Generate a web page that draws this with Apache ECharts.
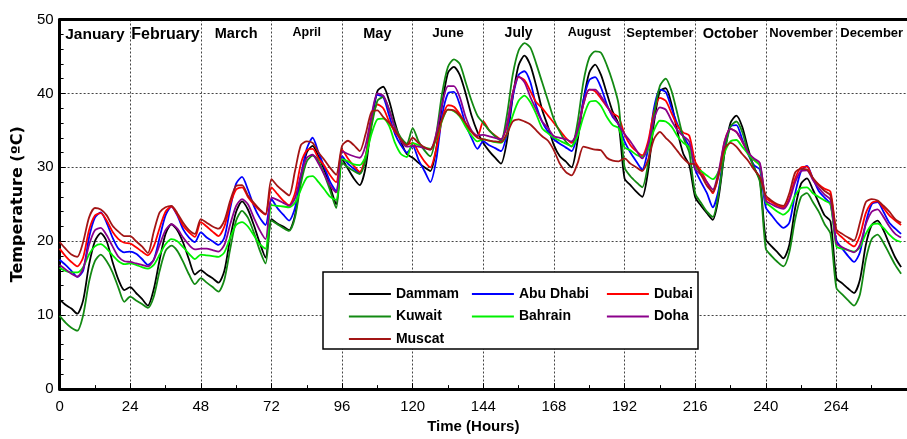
<!DOCTYPE html>
<html>
<head>
<meta charset="utf-8">
<script src="https://cdn.jsdelivr.net/npm/echarts@6/dist/echarts.min.js"></script>
<style>html,body{margin:0;padding:0;background:#fff;}#c{width:907px;height:439px;}</style>
</head>
<body>
<div id="c"></div>
<script>
const months = ['January','February','March','April','May','June','July','August','September','October','November','December'];
const monthFontSize = [15.5,16,14.5,12.5,14.5,13.5,14,12.5,13,14.5,13,13];
const hoursOfDay = [0,2,4,6,8,10,12,14,16,18,20,22];
const xTicks = [0,24,48,72,96,120,144,168,192,216,240,264,288];

const dammam = [
12.1,11.4,10.9,10.2,12.0,16.8,20.0,21.1,20.0,17.2,14.8,13.4,
13.8,13.0,12.2,11.3,13.5,17.5,21.0,22.3,21.5,19.8,17.5,15.5,
16.1,15.5,15.0,14.4,16.0,20.5,24.0,25.4,24.3,22.2,19.8,17.8,
23.0,22.4,22.0,21.5,23.5,28.5,32.0,32.9,31.5,29.6,27.3,25.0,
31.1,29.8,28.5,27.6,30.0,36.0,40.3,40.9,39.0,36.0,33.5,31.8,
31.3,30.6,30.0,29.5,32.5,38.5,42.8,43.6,42.5,40.0,37.0,34.8,
33.3,32.2,31.3,30.5,33.5,39.5,43.8,45.1,43.8,41.0,37.8,35.5,
33.0,31.5,30.8,30.0,33.5,39.0,42.8,43.9,42.5,40.0,37.5,35.8,
28.5,27.6,26.7,26.0,29.5,36.0,40.3,40.7,38.5,34.8,31.8,30.3,
26.0,24.8,23.8,22.9,26.0,32.0,36.0,37.0,35.5,32.5,30.0,28.3,
20.3,19.3,18.5,17.7,19.5,24.5,27.8,28.5,27.0,25.2,23.5,22.7,
15.0,14.3,13.6,13.0,14.8,19.5,22.2,22.8,21.5,19.6,17.8,16.5];

const kuwait = [
9.9,9.0,8.3,7.9,10.0,14.5,17.3,18.2,17.3,15.8,13.7,11.8,
12.5,12.0,11.5,11.0,12.5,16.0,18.7,19.4,18.7,17.2,15.5,14.2,
15.0,14.4,13.8,13.2,14.8,19.0,22.8,24.1,23.2,21.2,18.8,17.0,
22.8,22.3,21.8,21.4,23.2,27.8,30.8,31.6,30.8,29.0,26.8,24.5,
30.6,30.0,29.5,29.1,31.0,35.5,39.0,39.5,37.8,35.5,34.0,33.2,
35.3,33.5,32.3,31.5,34.5,40.0,43.6,44.6,44.0,41.5,39.0,37.0,
36.0,35.0,34.2,33.6,37.0,42.5,45.8,46.8,46.2,44.0,41.5,39.0,
36.5,34.8,33.5,32.8,36.0,41.5,44.8,45.7,45.5,43.8,41.5,38.5,
30.0,28.8,28.0,27.3,30.5,37.0,41.0,42.0,40.3,37.2,34.0,32.0,
26.5,25.2,24.0,23.3,26.5,32.0,35.5,36.2,34.8,32.0,30.0,28.0,
19.0,18.0,17.2,16.6,18.5,23.0,26.0,26.5,25.3,24.0,22.3,21.0,
13.7,12.8,12.0,11.3,12.8,17.5,20.3,20.9,19.8,18.3,16.8,15.6];

const muscat = [
19.9,19.0,18.2,17.9,19.9,23.2,24.5,24.3,23.5,22.1,21.3,20.7,
20.7,20.0,19.3,18.4,21.3,23.9,24.6,24.8,23.8,22.5,21.5,21.0,
23.0,22.5,22.0,21.7,22.8,25.5,27.5,27.6,26.2,25.2,24.3,23.7,
28.4,27.5,26.8,26.2,29.5,33.0,33.5,33.3,32.0,31.0,29.9,29.0,
32.9,33.6,33.0,32.2,34.5,37.5,37.7,36.8,36.0,35.0,33.8,33.0,
34.0,33.3,32.7,32.4,34.0,36.5,37.8,37.7,37.0,36.0,34.8,34.0,
33.8,33.6,33.5,33.4,34.5,36.2,36.5,36.2,35.8,35.0,34.2,33.6,
32.3,30.5,29.4,28.9,30.5,32.8,32.6,32.4,32.3,31.3,30.9,30.8,
31.2,30.5,30.0,29.5,31.0,33.8,34.8,34.0,33.2,32.2,31.2,30.5,
30.4,29.0,27.5,26.7,29.0,32.5,33.3,32.8,31.8,30.9,29.7,28.7,
26.2,25.5,25.0,24.8,26.5,29.3,29.8,29.7,28.6,27.6,26.8,26.2,
21.6,21.0,20.5,20.1,22.5,25.3,25.7,25.5,24.8,24.0,23.0,22.5];

const abuDhabi = [
17.5,16.8,16.0,15.2,16.0,20.5,23.2,23.9,22.5,20.5,19.0,18.5,
18.6,18.3,17.6,16.8,17.5,20.5,23.5,24.7,23.5,21.6,20.5,19.9,
21.2,20.5,20.0,19.5,20.5,24.5,27.8,28.7,27.0,24.8,23.2,22.2,
25.7,24.5,23.6,22.8,24.5,28.8,32.5,34.0,32.0,30.0,28.0,26.8,
31.5,30.5,29.8,29.2,31.5,36.5,39.8,39.5,37.0,34.5,33.0,32.0,
32.9,31.0,29.5,28.0,31.0,37.0,40.0,40.2,38.5,35.8,34.0,32.5,
33.5,33.0,32.6,32.2,34.5,39.5,42.5,43.0,41.5,38.3,36.2,34.8,
33.8,33.2,32.7,32.2,34.5,39.0,41.8,42.2,40.8,38.5,36.8,35.8,
33.5,32.0,30.8,29.7,32.5,38.0,40.5,40.2,38.0,35.8,34.2,32.8,
29.7,28.0,26.5,24.6,27.0,32.5,35.5,35.7,33.8,31.8,30.3,29.7,
24.6,23.5,22.5,21.8,22.5,26.5,29.5,30.2,28.5,26.8,25.9,25.0,
20.1,19.0,18.0,17.2,18.5,22.5,25.0,25.3,24.0,22.5,21.7,21.0];

const bahrain = [
16.4,16.0,15.8,15.8,16.5,18.2,19.3,19.6,19.0,18.1,17.3,16.9,
17.0,16.8,16.5,16.3,16.8,18.2,19.6,20.3,20.0,19.2,18.3,17.6,
18.2,18.1,18.0,17.9,18.5,20.5,22.2,22.6,22.0,20.8,19.6,19.0,
24.9,24.8,24.7,24.6,25.2,27.0,28.6,28.8,28.0,27.0,26.0,25.6,
31.1,30.8,30.4,30.3,31.5,34.5,36.5,36.6,35.6,33.3,31.8,31.4,
33.3,33.0,32.7,32.5,33.8,36.3,37.8,37.6,36.9,35.5,34.3,33.5,
33.8,33.6,33.4,33.3,34.5,37.0,39.0,39.7,38.8,37.2,35.3,34.6,
34.0,33.6,33.2,32.9,34.2,36.8,38.8,39.0,38.3,36.8,35.7,35.3,
32.7,32.3,31.7,31.4,32.5,35.0,36.3,36.2,35.5,34.2,33.3,32.7,
30.0,29.5,28.9,28.4,29.5,32.0,33.5,33.7,32.8,31.8,31.0,30.2,
25.3,24.6,24.0,23.6,24.3,26.2,27.2,27.3,26.5,26.0,25.5,25.0,
19.3,19.0,18.8,18.6,19.2,21.0,22.2,22.4,21.8,20.9,20.2,19.9];

const dubai = [
19.0,18.0,17.2,16.6,17.8,21.5,23.5,23.8,22.8,21.3,20.3,19.8,
19.7,19.2,18.6,18.1,19.3,21.8,24.0,24.7,23.6,22.1,21.2,20.6,
22.6,22.0,21.3,20.7,22.0,25.0,27.0,27.3,26.0,25.0,24.2,23.6,
27.3,26.4,25.5,24.9,26.5,30.5,32.3,32.5,31.2,30.2,28.9,28.0,
32.4,31.2,30.2,29.4,31.5,36.0,38.5,38.0,36.2,34.8,33.8,33.1,
33.3,32.0,30.8,30.0,32.5,36.5,38.4,38.2,37.2,35.8,34.8,34.2,
36.2,35.0,34.3,33.8,35.5,40.0,42.2,41.8,40.3,38.8,38.0,37.0,
36.0,35.0,34.0,33.3,35.0,38.5,40.5,40.3,39.3,38.2,37.3,36.8,
34.5,33.0,32.2,31.6,33.5,37.5,39.4,39.0,37.3,35.6,34.7,34.3,
30.8,29.5,28.0,26.5,29.0,33.5,35.2,34.8,33.5,32.0,31.0,30.3,
25.9,25.3,24.8,24.6,25.8,28.5,30.0,30.1,28.5,27.7,27.1,26.7,
21.3,20.5,19.8,19.3,20.8,23.8,25.2,25.4,24.5,23.5,22.8,22.2];

const doha = [
16.8,16.2,15.6,15.2,16.3,19.5,21.5,21.8,20.8,19.3,17.9,17.3,
17.2,17.0,16.8,16.6,17.5,19.5,21.5,22.3,21.7,20.5,19.5,18.9,
19.0,19.0,18.8,18.6,19.5,22.3,24.8,25.7,25.0,23.2,21.5,20.3,
25.9,25.6,25.2,24.8,25.8,29.0,31.3,31.7,30.5,29.0,27.5,26.6,
32.2,31.8,31.5,31.3,33.0,37.0,40.0,39.7,37.8,35.3,33.6,32.8,
32.9,32.8,32.6,32.4,34.5,38.5,41.0,41.0,39.5,36.8,35.0,34.3,
34.4,34.2,34.0,33.8,35.8,40.0,42.3,41.5,39.5,37.8,36.2,35.3,
34.2,34.0,33.8,33.5,35.0,38.5,40.5,40.5,39.6,38.3,37.0,35.8,
34.5,33.5,32.3,31.2,33.0,36.5,38.1,37.8,36.3,35.0,34.2,33.5,
29.8,29.0,28.0,27.0,29.5,33.5,35.2,34.8,33.5,32.0,31.2,30.6,
25.5,25.0,24.6,24.4,25.5,28.0,29.5,29.6,28.3,27.2,26.3,25.6,
19.7,19.2,18.8,18.5,19.5,22.3,24.0,24.3,23.3,22.0,21.0,20.5];

const seriesDefs = [
  {name:'Dammam', values: dammam, color:'#000000'},
  {name:'Abu Dhabi', values: abuDhabi, color:'#0000ff'},
  {name:'Dubai', values: dubai, color:'#ff0000'},
  {name:'Kuwait', values: kuwait, color:'#138a13'},
  {name:'Bahrain', values: bahrain, color:'#00f000'},
  {name:'Doha', values: doha, color:'#8b008b'},
  {name:'Muscat', values: muscat, color:'#a31515'}
];

function toPoints(values){
  return values.map((v,i)=>[Math.floor(i/12)*24 + hoursOfDay[i%12], v]);
}

const FONT = '"Liberation Sans", Arial, sans-serif';
const rich = {};
monthFontSize.forEach((s,i)=>{ rich['m'+i] = {fontSize:s, fontWeight:'bold', color:'#000', fontFamily:FONT}; });

const legendCommon = {
  orient:'vertical', itemWidth:42, itemHeight:14, itemGap:8.5, selectedMode:false, z:100,
  itemStyle:{opacity:0},
  lineStyle:{width:1.8},
  textStyle:{fontSize:14, fontWeight:'bold', color:'#000', fontFamily:FONT}
};

const chart = echarts.init(document.getElementById('c'), null, {renderer:'canvas'});
chart.setOption({
  animation:false,
  backgroundColor:'#fff',
  grid:{left:59.6, right:-9.4, top:19.5, bottom:47},
  xAxis:[{
    type:'value', min:0, max:288, interval:24, position:'bottom',
    axisLine:{show:true, onZero:false, lineStyle:{color:'#000', width:3}},
    axisTick:{show:true, inside:true, length:6, lineStyle:{color:'#000', width:1}},
    minorTick:{show:true, splitNumber:2, length:4, lineStyle:{color:'#000', width:1}},
    splitLine:{show:true, lineStyle:{color:'#444', width:1, type:[2,2]}},
    axisLabel:{fontSize:15, color:'#000', margin:10, fontFamily:FONT, showMaxLabel:false},
    name:'Time (Hours)', nameLocation:'middle', nameGap:29,
    nameTextStyle:{fontSize:15, fontWeight:'bold', color:'#000', fontFamily:FONT, padding:[0,20,0,0]}
  },{
    type:'category', data:months, position:'top', boundaryGap:true,
    axisLine:{show:true, onZero:false, lineStyle:{color:'#000', width:3}},
    axisTick:{show:false},
    axisLabel:{inside:true, interval:0, margin:7, formatter:(v,i)=>'{m'+i+'|'+v+'}', rich:rich}
  }],
  yAxis:{
    type:'value', min:0, max:50, interval:10,
    axisLine:{show:true, onZero:false, lineStyle:{color:'#000', width:3}},
    axisTick:{show:true, inside:true, length:6, lineStyle:{color:'#000', width:1}},
    minorTick:{show:true, splitNumber:5, length:4, lineStyle:{color:'#000', width:1}},
    splitLine:{show:true, lineStyle:{color:'#444', width:1, type:[2,2]}},
    axisLabel:{fontSize:15, color:'#000', margin:6, fontFamily:FONT},
    name:'Temperature (ºC)', nameLocation:'middle', nameGap:31,
    nameTextStyle:{fontSize:16, fontWeight:'bold', color:'#000', fontFamily:'"DejaVu Sans", sans-serif'}
  },
  legend:[
    Object.assign({left:343, top:282, data:['Dammam','Kuwait','Muscat']}, legendCommon),
    Object.assign({left:466, top:282, data:['Abu Dhabi','Bahrain']}, legendCommon),
    Object.assign({left:601, top:282, data:['Dubai','Doha']}, legendCommon)
  ],
  graphic:[{
    type:'rect', z:50, shape:{x:323, y:272, width:375, height:77},
    style:{fill:'#fff', stroke:'#000', lineWidth:1.5}
  }],
  series: seriesDefs.map(d=>({
    name:d.name, type:'line', xAxisIndex:0, data:toPoints(d.values),
    symbol:'none', smooth:0.25, color:d.color,
    lineStyle:{width:1.8, color:d.color}
  }))
});
</script>
</body>
</html>
